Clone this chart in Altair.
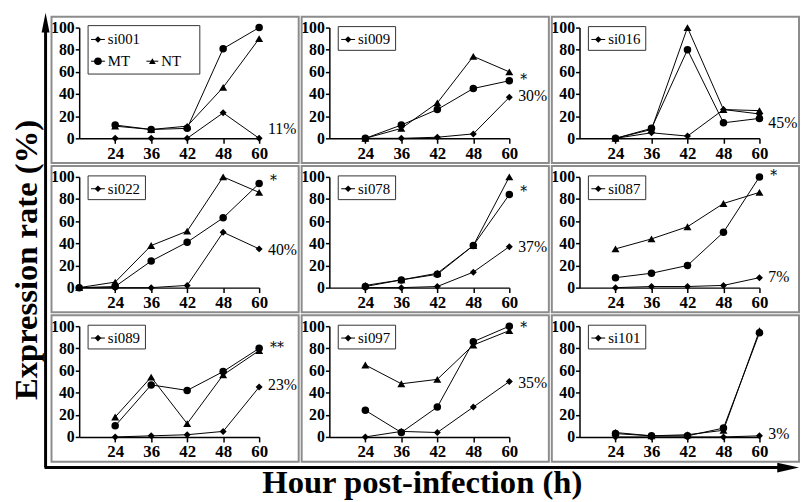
import altair as alt
import pandas as pd

# ---------------- data ----------------
genes = ["si001", "si009", "si016", "si022", "si078", "si087", "si089", "si097", "si101"]
hours = [24, 36, 42, 48, 60]
series_names = ["si", "MT", "NT"]

si_vals = [
    [0, 0, 0, 23, 0],
    [0, 0, 1, 4, 37],
    [0, 5, 2, 26, 22],
    [0, 0, 2, 50, 35],
    [0, 0, 1, 14, 37],
    [0, 1, 1, 2, 9],
    [0, 1, 2, 5, 45],
    [0, 5, 4, 27, 50],
    [0, 0, 0, 0, 1],
]
mt_vals = [
    [12, 8, 9, 81, 100],
    [0, 12, 26, 45, 52],
    [0, 9, 80, 14, 18],
    [1, 24, 41, 63, 94],
    [1, 7, 12, 38, 84],
    [9, 13, 20, 50, 100],
    [10, 47, 42, 59, 80],
    [24, 4, 27, 86, 100],
    [3, 1, 1, 8, 94],
]
nt_vals = [
    [11, 8, 11, 46, 90],
    [0, 9, 32, 74, 60],
    [0, 8, 100, 26, 25],
    [5, 38, 51, 100, 86],
    [2, 7, 13, 38, 100],
    [35, 44, 55, 76, 86],
    [18, 54, 12, 56, 78],
    [65, 48, 52, 83, 96],
    [4, 1, 2, 6, 96],
]
# si022 also has a point at the origin (0 h)
origin_genes = ["si022"]
origin_vals = [0, 0, 0]

pct_text = ["11%", "30%", "45%", "40%", "37%", "7%", "23%", "35%", "3%"]
pct_y = [8, 38, 14, 34, 37, 10, 47, 49, 3]
star_text = ["", "*", "", "*", "*", "*", "**", "*", ""]
star_y = [0, 53, 0, 96, 86, 101, 80, 98, 0]

legend_extra = ["MT", "NT"]
y_title = "Expression rate (%)"
x_title = "Hour post-infection (h)"

FONT = "Liberation Serif"
STAR_FONT = "DejaVu Serif"

# ---------------- encodings ----------------
label_expr = "[" + ",".join(["''"] + ["'%d'" % h for h in hours]) + "][datum.value]"
x_scale = alt.Scale(domain=[0, 5], nice=False, zero=False)
y_scale = alt.Scale(domain=[0, 100], nice=False)
x_enc = alt.X("pos:Q", scale=x_scale,
              axis=alt.Axis(values=[1, 2, 3, 4, 5], labelExpr=label_expr, title=None, grid=False,
                            tickSize=5, labelPadding=2, labelFontSize=17, labelFont=FONT,
                            labelFontWeight="bold", labelColor="black", domainColor="black",
                            tickColor="black", domainWidth=1.5, tickWidth=1.5,
                            labelFlush=False, labelOverlap=False))
y_enc = alt.Y("value:Q", scale=y_scale,
              axis=alt.Axis(values=[0, 20, 40, 60, 80, 100], title=None, grid=False,
                            tickSize=4, labelPadding=1, labelFontSize=16, labelFont=FONT,
                            labelFontWeight="bold", labelColor="black", domainColor="black",
                            tickColor="black", domainWidth=1.5, tickWidth=1.5,
                            labelFlush=False, labelOverlap=False))

shape_enc = alt.Shape("series:N", scale=alt.Scale(domain=series_names,
                                                  range=["diamond", "circle", "triangle-up"]),
                      legend=None)
size_enc = alt.Size("series:N", scale=alt.Scale(domain=series_names, range=[50, 65, 50]),
                    legend=None)


def panel(k):
    g = genes[k]
    recs = []
    for j, (s, vals) in enumerate(zip(series_names, (si_vals[k], mt_vals[k], nt_vals[k]))):
        if g in origin_genes:
            recs.append({"pos": 0, "series": s, "value": origin_vals[j]})
        for i, v in enumerate(vals):
            recs.append({"pos": i + 1, "series": s, "value": v})
    df = pd.DataFrame(recs)
    base = alt.Chart(df)
    layers = []

    # panel frame
    one = pd.DataFrame({"label": [g]})
    layers.append(alt.Chart(one).mark_rect(fillOpacity=0, stroke="#8c8c8c", strokeWidth=2).encode(
        x=alt.value(-28), x2=alt.value(222), y=alt.value(-11), y2=alt.value(137)))

    layers.append(base.mark_line(color="black", strokeWidth=1).encode(
        x=x_enc, y=y_enc, detail="series:N", order="pos:Q"))
    layers.append(base.mark_point(filled=True, color="black", opacity=1).encode(
        x=x_enc, y=y_enc, shape=shape_enc, size=size_enc))

    pdf = pd.DataFrame({"pos": [5], "value": [pct_y[k]], "note": [pct_text[k]]})
    layers.append(alt.Chart(pdf).mark_text(align="left", baseline="middle", dx=9, font=FONT,
                                           fontSize=16, color="black").encode(
        x=x_enc, y=y_enc, text="note:N"))
    if star_text[k]:
        sdf = pd.DataFrame({"pos": [5], "value": [star_y[k]], "note": [star_text[k]]})
        layers.append(alt.Chart(sdf).mark_text(align="left", baseline="middle", dx=11, font=STAR_FONT,
                                               fontSize=14, color="black").encode(
            x=x_enc, y=y_enc, text="note:N"))

    # manual legend box
    big = (k == 0)
    layers.append(alt.Chart(one).mark_rect(fillOpacity=0, stroke="#333", strokeWidth=1).encode(
        x=alt.value(9), x2=alt.value(122 if big else 67),
        y=alt.value(-2 if big else -1), y2=alt.value(47 if big else 23)))
    layers.append(alt.Chart(one).mark_rule(color="black", strokeWidth=1).encode(
        x=alt.value(12), x2=alt.value(26), y=alt.value(12)))
    layers.append(alt.Chart(one).mark_point(shape="diamond", filled=True, size=45, color="black",
                                            opacity=1).encode(x=alt.value(19), y=alt.value(12)))
    layers.append(alt.Chart(one).mark_text(align="left", baseline="middle", font=FONT, fontSize=15,
                                           color="black").encode(
        x=alt.value(29), y=alt.value(12), text="label:N"))

    if big:
        mt = pd.DataFrame({"label": [legend_extra[0]]})
        nt = pd.DataFrame({"label": [legend_extra[1]]})
        layers.append(alt.Chart(mt).mark_rule(color="black", strokeWidth=1).encode(
            x=alt.value(12), x2=alt.value(26), y=alt.value(34)))
        layers.append(alt.Chart(mt).mark_point(shape="circle", filled=True, size=60, color="black",
                                               opacity=1).encode(x=alt.value(19), y=alt.value(34)))
        layers.append(alt.Chart(mt).mark_text(align="left", baseline="middle", font=FONT, fontSize=15,
                                              color="black").encode(
            x=alt.value(29), y=alt.value(34), text="label:N"))
        layers.append(alt.Chart(nt).mark_rule(color="black", strokeWidth=1).encode(
            x=alt.value(68), x2=alt.value(80), y=alt.value(34)))
        layers.append(alt.Chart(nt).mark_point(shape="triangle-up", filled=True, size=45,
                                               color="black", opacity=1).encode(
            x=alt.value(74), y=alt.value(34)))
        layers.append(alt.Chart(nt).mark_text(align="left", baseline="middle", font=FONT, fontSize=15,
                                              color="black").encode(
            x=alt.value(83), y=alt.value(34), text="label:N"))

        # overall axes (arrows) and titles
        yt = pd.DataFrame({"t": [y_title]})
        xt = pd.DataFrame({"t": [x_title]})
        layers.append(alt.Chart(yt).mark_rule(color="black", strokeWidth=3).encode(
            x=alt.value(-34), y=alt.value(-2), y2=alt.value(445)))
        layers.append(alt.Chart(yt).mark_rule(color="black", strokeWidth=3).encode(
            x=alt.value(-35), x2=alt.value(712), y=alt.value(445)))
        layers.append(alt.Chart(yt).mark_point(shape="M0,-1L0.4,1L-0.4,1Z", filled=True, size=400,
                                               color="black", opacity=1).encode(
            x=alt.value(-34), y=alt.value(-5)))
        layers.append(alt.Chart(yt).mark_point(shape="M1,0L-1,-0.45L-1,0.45Z", filled=True, size=484,
                                               color="black", opacity=1).encode(
            x=alt.value(717), y=alt.value(445)))
        layers.append(alt.Chart(yt).mark_text(angle=270, align="center", baseline="middle", font=FONT,
                                              fontSize=33, fontWeight="bold", color="black").encode(
            x=alt.value(-53), y=alt.value(235), text="t:N"))
        layers.append(alt.Chart(xt).mark_text(align="center", baseline="middle", font=FONT,
                                              fontSize=33, fontWeight="bold", color="black").encode(
            x=alt.value(347), y=alt.value(461), text="t:N"))

    return alt.layer(*layers).properties(width=182, height=112)


panels = [panel(k) for k in range(len(genes))]

chart = alt.concat(*panels, columns=3, spacing={"row": 39, "column": 71}, bounds="flush").properties(
    padding={"left": 2, "top": 2, "right": 0, "bottom": 0}
).configure_view(stroke=None)

chart.save("out.html", embed_options={"renderer": "svg", "actions": False})
